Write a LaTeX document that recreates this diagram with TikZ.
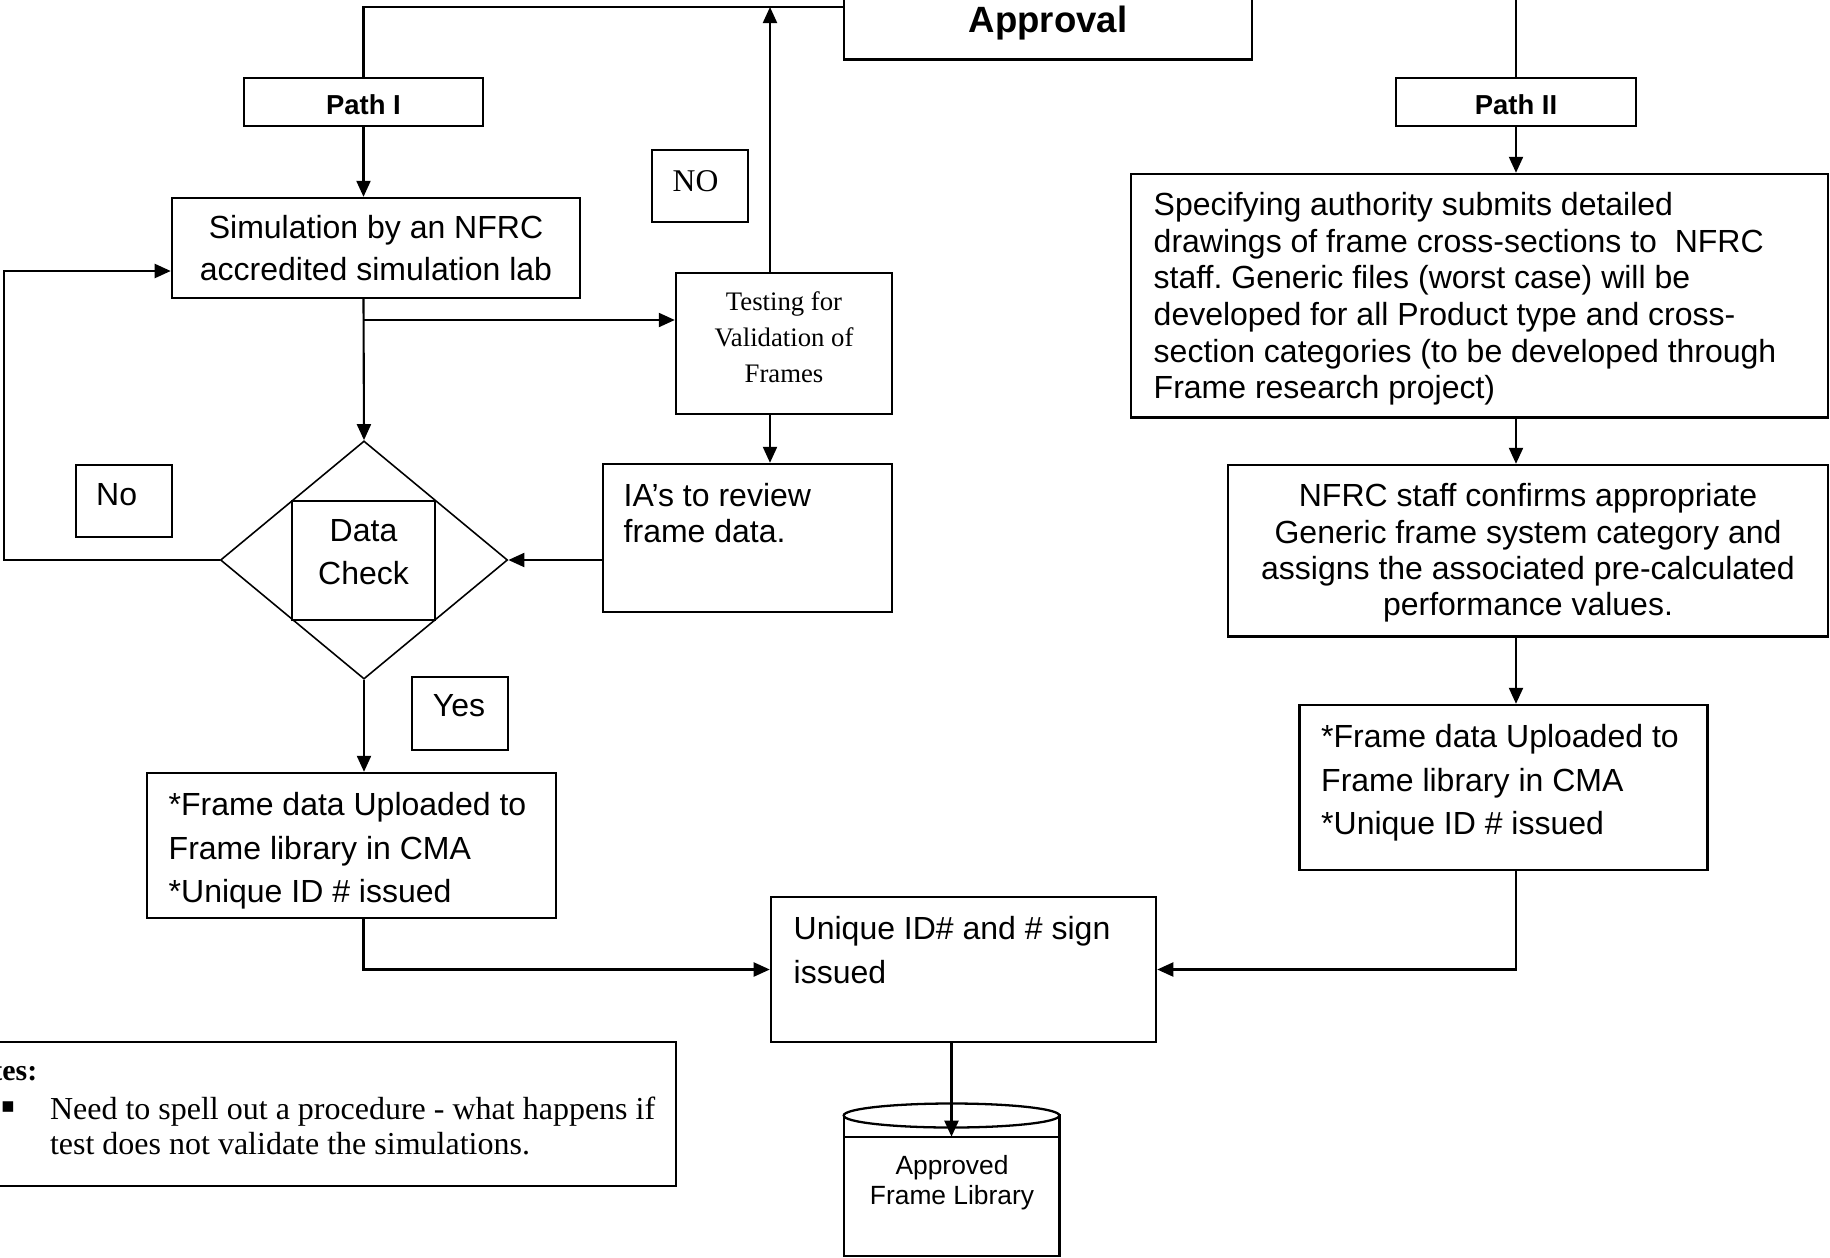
\documentclass[tikz,border=0pt]{standalone}
\usepackage{fontspec}
\setmainfont{Liberation Sans}
\newfontfamily\timesfont{Liberation Serif}
\newfontfamily\symbolfont{DejaVu Sans}
\usetikzlibrary{arrows.meta,shapes.geometric}
\frenchspacing

\tikzset{
  box/.style={draw, line width=0.65pt, inner sep=0pt},
  ln/.style={line width=0.6pt},
  arr/.style={ln, -{Triangle[length=1.6mm,width=1.4mm]}},
  loose/.style={inner sep=0pt, align=left, font=\fontsize{9.1}{12.4}\selectfont},
  tight/.style={inner sep=0pt, align=left, font=\fontsize{9.1}{10.4}\selectfont},
  serif/.style={inner sep=0pt, font=\timesfont\fontsize{9}{10}\selectfont},
  pathlabel/.style={box, minimum height=0.48cm, text height=0.25cm, text depth=0pt, font=\bfseries\fontsize{7.8}{9}\selectfont},
}

\begin{document}
\begin{tikzpicture}[x=0.01cm, y=-0.01cm]
 \path[use as bounding box, clip] (0,0) rectangle (1830,1257);

 \node[box, minimum width=4.08cm, minimum height=1.05cm] (approval) at (1048,7) {};
 \node[inner sep=0pt, anchor=base, font=\bfseries\fontsize{10.4}{12}\selectfont] (approvaltxt) at (1048,32) {Approval};

 \node[pathlabel, minimum width=2.39cm] (pathI) at (363.5,102) {Path I};
 \node[pathlabel, minimum width=2.40cm] (pathII) at (1516,102) {Path II};

 \node[box, align=center, minimum width=4.08cm, minimum height=1.0cm, font=\fontsize{9.1}{11.95}\selectfont] (sim) at (376,248) {Simulation by an NFRC\\accredited simulation lab};

 \node[box, minimum width=0.96cm, minimum height=0.72cm] (nobox) at (700,186) {};
 \node[serif, anchor=base] (notxt) at (695.5,191.7) {NO};

 \node[box, minimum width=2.16cm, minimum height=1.41cm] (testing) at (784,343.5) {};
 \node[inner sep=0pt, align=center, font=\timesfont\fontsize{7.6}{10.2}\selectfont] (testingtxt) at (784,337.5) {Testing for\\Validation of\\Frames};

 \node[box, minimum width=0.96cm, minimum height=0.72cm] (noloop) at (124,501) {};
 \node[loose, anchor=base] (nolooptxt) at (116.7,505) {No};

 \node[draw, diamond, line width=0.45pt, inner sep=0pt, minimum width=2.87cm, minimum height=2.38cm] (check) at (364,560) {};
 \node[box, minimum width=1.43cm, minimum height=1.19cm] (checkbox) at (363.5,560.5) {};
 \node[inner sep=0pt, align=center, font=\fontsize{9.1}{12.3}\selectfont] (checktxt) at (363.5,552) {Data\\Check};

 \node[box, minimum width=2.89cm, minimum height=1.48cm] (ias) at (747.5,538) {};
 \node[tight, anchor=west] (iastxt) at (623,513) {IA’s to review\\frame data.};

 \node[box, minimum width=0.96cm, minimum height=0.73cm] (yesbox) at (460,713.5) {};
 \node[loose, anchor=base] (yestxt) at (459,716.7) {Yes};

 \node[box, minimum width=4.09cm, minimum height=1.45cm] (upload1) at (351.5,845.5) {};
 \node[loose, anchor=west] (upload1txt) at (168,851) {*Frame data Uploaded to\\Frame library in CMA\\*Unique ID \# issued};

 \node[box, minimum width=3.85cm, minimum height=1.45cm] (unique) at (963.5,969.5) {};
 \node[loose, anchor=west] (uniquetxt) at (793,950) {Unique ID\# and \# sign\\issued};

 \node[box, minimum width=6.965cm, minimum height=2.435cm] (spec) at (1479.75,295.75) {};
 \node[tight, anchor=west] (spectxt) at (1153,299) {Specifying authority submits detailed\\drawings of frame cross-sections to\ \ NFRC\\staff. Generic files (worst case) will be\\developed for all Product type and cross-\\section categories (to be developed through\\Frame research project)};

 \node[box, minimum width=6.0cm, minimum height=1.715cm] (nfrc) at (1528,550.75) {};
 \node[inner sep=0pt, align=center, font=\fontsize{9.1}{10.3}\selectfont] (nfrctxt) at (1528,553) {NFRC staff confirms appropriate\\Generic frame system category and\\assigns the associated pre-calculated\\performance values.};

 \node[box, minimum width=4.08cm, minimum height=1.65cm] (upload2) at (1503.5,787.5) {};
 \node[loose, anchor=west] (upload2txt) at (1320.5,783) {*Frame data Uploaded to\\Frame library in CMA\\*Unique ID \# issued};

 \node[box, minimum width=7.56cm, minimum height=1.44cm] (notes) at (298,1114) {};
 \node[inner sep=0pt, anchor=base east, font=\timesfont\bfseries\fontsize{8.5}{10}\selectfont] (notestitle) at (38,1080) {Notes:};
 \node[inner sep=0pt, font=\symbolfont\fontsize{6}{7}\selectfont] (bullet) at (8,1107) {▪};
 \node[inner sep=0pt, anchor=north west, align=left, font=\timesfont\fontsize{9.1}{9.96}\selectfont] (notestxt) at (49.3,1096) {Need to spell out a procedure - what happens if\\test does not validate the simulations.};

 \draw[line width=0.65pt] (844,1114) -- (844,1256) -- (1059.5,1256) -- (1059.5,1114);
 \draw[line width=0.65pt] (951.5,1115.5) ellipse [x radius=1.0775cm, y radius=0.12cm];
 \draw[line width=0.65pt] (844,1136.7) -- (1059.5,1136.7);
 \node[inner sep=0pt, align=center, font=\fontsize{7.5}{8.5}\selectfont] (libtxt) at (952,1183) {Approved\\Frame Library};

 \coordinate (tcol) at (770,0);
 \coordinate (topII) at (1516,-10);
 \coordinate (split) at (363.5,320);
 \coordinate (fb) at (4,271);
 \coordinate (libtop) at (951.5,1136.7);

 \draw[ln] (pathI.north) |- (approval.west);
 \draw[arr] (tcol |- testing.north) -- (tcol |- approval.west);
 \draw[arr] (tcol |- testing.south) -- (tcol |- ias.north);
 \draw[ln] (topII) -- (pathII.north);
 \draw[arr] (pathI.south) -- (pathI.south |- sim.north);
 \draw[arr] (sim.south -| pathI) -- (check.north);
 \draw[arr] (split) -- (split -| testing.west);
 \draw[arr] (check.west) -| (fb) -- (fb -| sim.west);
 \draw[arr] (ias.west |- check.east) -- (check.east);
 \draw[arr] (check.south) -- (check.south |- upload1.north);
 \draw[arr] (upload1.south -| pathI) |- (unique.west);
 \draw[arr] (pathII.south) -- (pathII.south |- spec.north);
 \draw[arr] (spec.south -| pathII) -- (nfrc.north -| pathII);
 \draw[arr] (nfrc.south -| pathII) -- (upload2.north -| pathII);
 \draw[arr] (upload2.south -| pathII) |- (unique.east);
 \draw[arr] (unique.south -| libtop) -- (libtop);
\end{tikzpicture}
\end{document}
